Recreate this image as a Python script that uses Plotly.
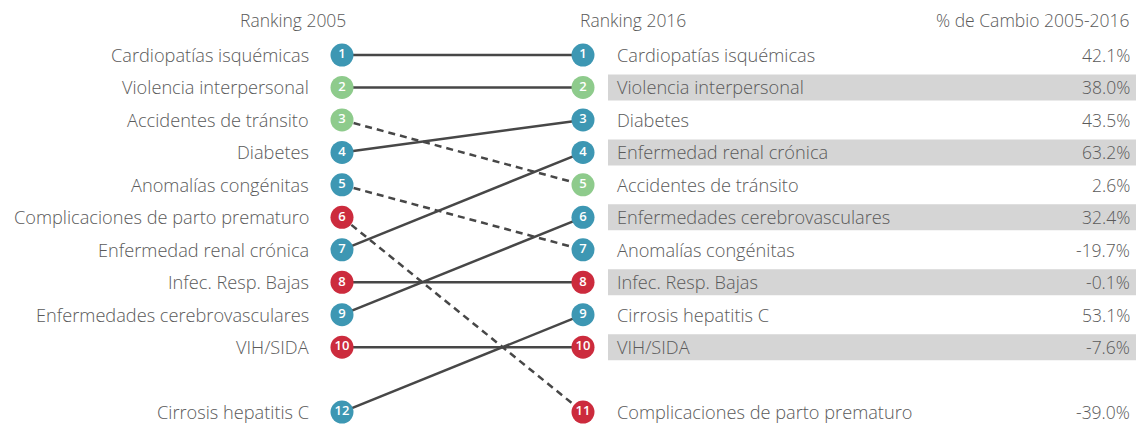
import plotly.graph_objects as go

# Data
causes = ["Cardiopatías isquémicas", "Violencia interpersonal", "Accidentes de tránsito",
          "Diabetes", "Anomalías congénitas", "Complicaciones de parto prematuro",
          "Enfermedad renal crónica", "Infec. Resp. Bajas", "Enfermedades cerebrovasculares",
          "VIH/SIDA", "Cirrosis hepatitis C"]
rank_2005 = [1, 2, 3, 4, 5, 6, 7, 8, 9, 10, 12]
rank_2016 = [1, 2, 5, 3, 7, 11, 4, 8, 6, 10, 9]
pct_change = [42.1, 38.0, 2.6, 43.5, -19.7, -39.0, 63.2, -0.1, 32.4, -7.6, 53.1]
group = ["blue", "green", "green", "blue", "blue", "red", "blue", "red", "blue", "red", "blue"]
headers = ["Ranking 2005", "Ranking 2016", "% de Cambio 2005-2016"]

COLORS = {"blue": "#3d97b3", "green": "#8ecb8c", "red": "#cc2b3d"}
TEXT = "#5a5a5a"
FONT = "Open Sans"
X_LEFT, X_RIGHT = 342, 583

def slot(r):
    # ranks beyond 10 are drawn after a gap
    return r if r <= 10 else 12

fig = go.Figure()

# bands behind even rows of 2016 table
for r in range(2, 11, 2):
    fig.add_shape(type="rect", x0=608, x1=1136, y0=slot(r) - 0.4, y1=slot(r) + 0.4,
                  fillcolor="#d5d5d5", line_width=0, layer="below")

# connecting lines
for c, a, b in zip(causes, rank_2005, rank_2016):
    fig.add_trace(go.Scatter(x=[X_LEFT, X_RIGHT], y=[slot(a), slot(b)], mode="lines",
                             line=dict(color="#474747", width=2.5,
                                       dash="7px,5px" if b > a else "solid"),
                             hoverinfo="skip", showlegend=False, cliponaxis=False))

# circles
cols = [COLORS[g] for g in group]
for xc, ranks in [(X_LEFT, rank_2005), (X_RIGHT, rank_2016)]:
    fig.add_trace(go.Scatter(x=[xc] * len(causes), y=[slot(r) for r in ranks],
                             mode="markers+text", text=[str(r) for r in ranks],
                             marker=dict(size=23, color=cols, line=dict(width=0)),
                             textfont=dict(color="white", size=13, family=FONT, weight=600),
                             textposition="middle center", showlegend=False,
                             cliponaxis=False))

lab = dict(size=18.2, color=TEXT, family=FONT, weight=300)
pct = dict(size=17.5, color=TEXT, family=FONT, weight=300)
ann = []
for c, a, b, p in zip(causes, rank_2005, rank_2016, pct_change):
    ann.append(dict(x=311, y=slot(a), text=c, xanchor="right", yanchor="middle",
                    showarrow=False, font=lab))
    ann.append(dict(x=615, y=slot(b), text=c, xanchor="left", yanchor="middle",
                    showarrow=False, font=lab))
    ann.append(dict(x=1132, y=slot(b), text=f"{p:.1f}%", xanchor="right", yanchor="middle",
                    showarrow=False, font=pct))

for x, t, xa in zip([348, 578, 1132], headers, ["right", "left", "right"]):
    ann.append(dict(x=x, y=-0.08, text=t, xanchor=xa, yanchor="middle", showarrow=False,
                    font=dict(size=17.5, color=TEXT, family=FONT, weight=300)))

fig.update_layout(width=1147, height=428, margin=dict(l=0, r=0, t=0, b=0),
                  plot_bgcolor="white", paper_bgcolor="white", annotations=ann,
                  xaxis=dict(range=[0, 1147], visible=False, fixedrange=True),
                  yaxis=dict(range=[12.49, -0.695], visible=False, fixedrange=True))

fig.write_html("out.html", config={"displayModeBar": False},
               post_script="document.body.style.margin='0';document.body.style.overflow='hidden';")
